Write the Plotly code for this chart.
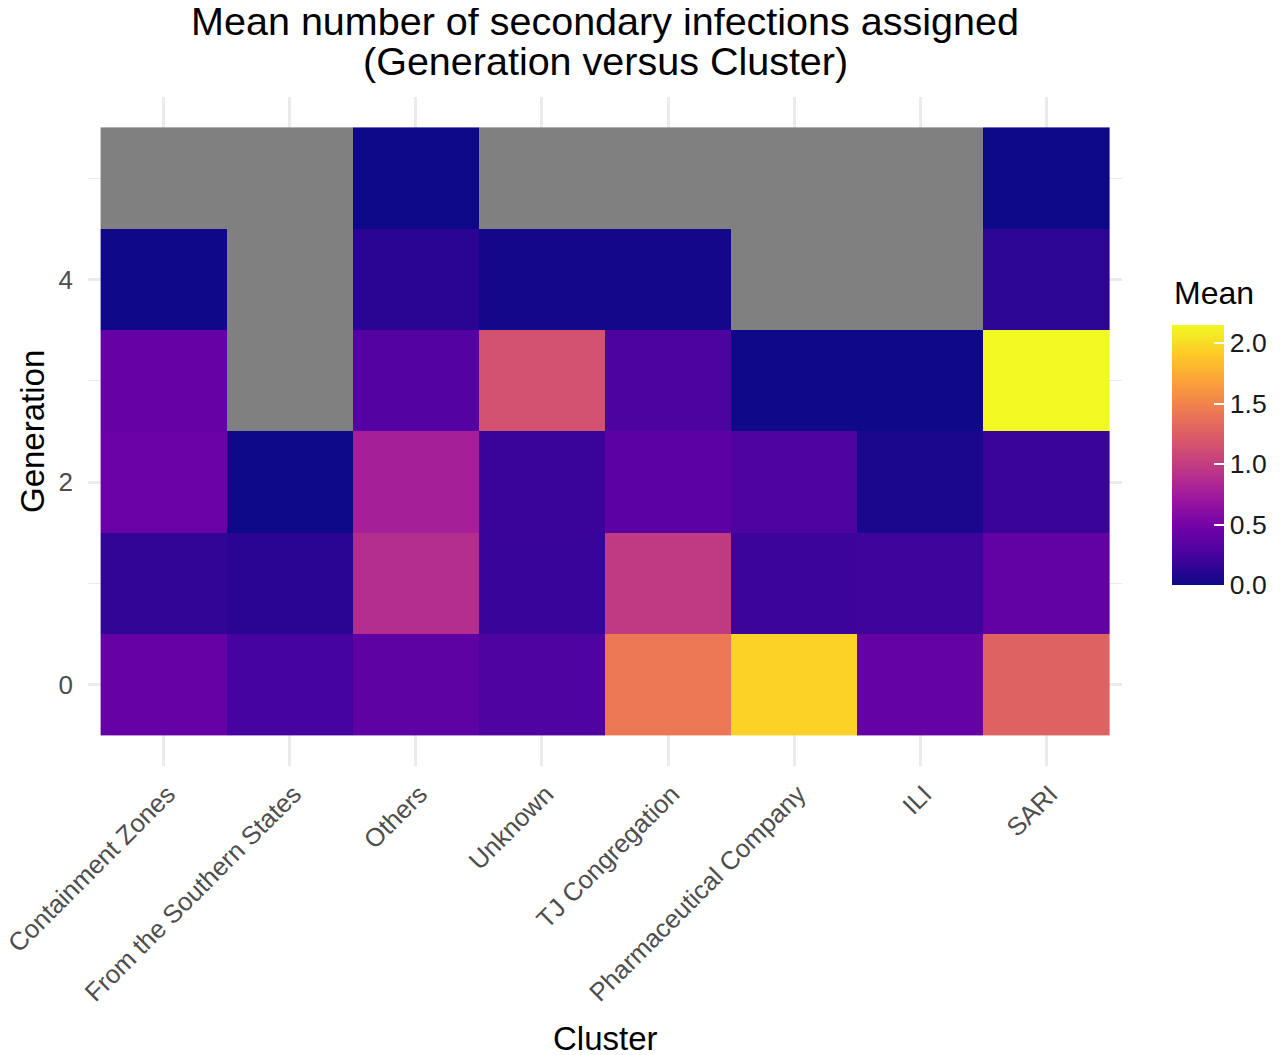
import plotly.graph_objects as go

clusters = ["Containment Zones", "From the Southern States", "Others", "Unknown",
            "TJ Congregation", "Pharmaceutical Company", "ILI", "SARI"]
generations = [0, 1, 2, 3, 4, 5]
NA = None
# mean secondary infections, one list per generation (columns follow `clusters`)
gen0 = [0.41, 0.24, 0.37, 0.29, 1.42, 1.95, 0.40, 1.27]
gen1 = [0.155, 0.12, 0.88, 0.18, 0.98, 0.20, 0.21, 0.39]
gen2 = [0.43, 0.00, 0.78, 0.19, 0.36, 0.29, 0.06, 0.19]
gen3 = [0.41, NA, 0.32, 1.15, 0.27, 0.01, 0.01, 2.15]
gen4 = [0.01, NA, 0.12, 0.02, 0.02, NA, NA, 0.13]
gen5 = [NA, NA, 0.00, NA, NA, NA, NA, 0.00]
z = [gen0, gen1, gen2, gen3, gen4, gen5]
colorbar_ticks = [0.0, 0.5, 1.0, 1.5, 2.0]
title_lines = ["Mean number of secondary infections assigned", "(Generation versus Cluster)"]

na_mask = [[1 if v is None else None for v in row] for row in z]

FONT = "Liberation Sans, Arial, sans-serif"
# the page body adds an 8px offset, so all positions are shifted by -8;
# the width leaves room so the colorbar does not push the right margin
W, H = 1282, 1047
L, T = 80, 89
R = W - 1114
B = H - 758
PW, PH = W - L - R, H - T - B


def px_x(x):
    return (x - L) / PW


def px_y(y):
    return (H - B - y) / PH


fig = go.Figure()
fig.add_trace(go.Heatmap(
    x=clusters, y=generations, z=na_mask,
    colorscale=[[0, "#808080"], [1, "#808080"]],
    showscale=False, hoverinfo="skip",
))
fig.add_trace(go.Heatmap(
    x=clusters, y=generations, z=z,
    colorscale="Plasma", zmin=0, zmax=max(v for r in z for v in r if v is not None),
    colorbar=dict(
        thickness=52, thicknessmode="pixels",
        len=260, lenmode="pixels", ypad=0,
        x=px_x(1164), xanchor="left", xpad=0,
        y=px_y(577), yanchor="bottom",
        tickvals=colorbar_ticks, ticktext=[f"{v:.1f}" for v in colorbar_ticks],
        ticks="inside", ticklen=10, tickcolor="white", tickwidth=1.5,
        outlinewidth=0,
        tickfont=dict(family=FONT, size=26.5, color="#1a1a1a"),
    ),
))

fig.update_layout(
    width=W, height=H,
    margin=dict(l=L, r=R, t=T, b=B),
    paper_bgcolor="white", plot_bgcolor="white",
    title=dict(
        text=title_lines[0],
        x=(L + PW / 2) / W, xanchor="center", xref="container",
        y=1 - 13 / H, yanchor="middle", yref="container",
        font=dict(family=FONT, size=39.5, color="black"),
    ),
    font=dict(family=FONT),
    annotations=[
        dict(text=title_lines[1], x=0.5, y=px_y(53), xref="paper", yref="paper",
             xanchor="center", yanchor="middle", showarrow=False,
             font=dict(family=FONT, size=39.5, color="black")),
        dict(text="Cluster", x=0.5, y=px_y(1030), xref="paper", yref="paper",
             xanchor="center", yanchor="middle", showarrow=False,
             font=dict(family=FONT, size=33, color="black")),
        dict(text="Generation", x=px_x(24), y=px_y(424), xref="paper", yref="paper",
             xanchor="center", yanchor="middle", showarrow=False, textangle=-90,
             font=dict(family=FONT, size=33, color="black")),
        dict(text="Mean", x=px_x(1164), y=px_y(285), xref="paper", yref="paper",
             xanchor="left", yanchor="middle", showarrow=False,
             font=dict(family=FONT, size=32, color="black")),
    ],
)
fig.update_xaxes(
    type="category", range=[-0.6, 7.6], automargin=False,
    showgrid=True, gridcolor="#ebebeb", gridwidth=2.5,
    zeroline=False, showline=False, ticks="",
    tickangle=-45, ticklabelstandoff=7, ticklabelshift=4,
    tickfont=dict(family=FONT, size=25.6, color="#4d4d4d"),
)
fig.update_yaxes(
    range=[-0.8, 5.8], automargin=False,
    tickvals=[0, 2, 4],
    showgrid=True, gridcolor="#ebebeb", gridwidth=2.5,
    minor=dict(tickvals=[1, 3, 5], showgrid=True, gridcolor="#ebebeb", gridwidth=1.3),
    zeroline=False, showline=False, ticks="",
    ticklabelstandoff=14,
    tickfont=dict(family=FONT, size=26, color="#4d4d4d"),
)

fig.write_html("out.html")
